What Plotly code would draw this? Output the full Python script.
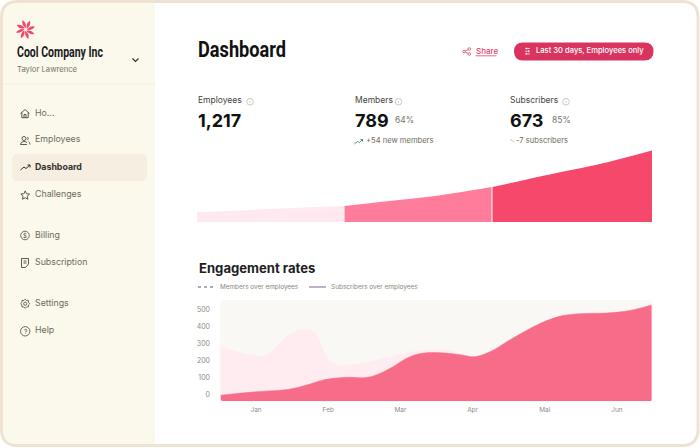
import re, math
import plotly.graph_objects as go

W, H = 700, 448

# ---- data ----
months = ["Jan", "Feb", "Mar", "Apr", "Mai", "Jun"]
month_pos = [0, 1, 2, 3, 4, 5]
rate_ticks = [0, 100, 200, 300, 400, 500]

members_pos = [-0.49, -0.24, 0.0, 0.16, 0.37, 0.55, 0.69, 0.81, 0.90, 0.99, 1.11, 1.25, 1.48, 1.71, 1.99, 2.22, 2.40,
               2.68, 2.87, 3.03, 3.24, 3.51, 3.79, 4.02, 4.25, 4.49, 4.86, 5.18, 5.48]
members_rate = [279, 246, 226, 236, 318, 371, 379, 363, 289, 211, 176, 172, 185, 205, 234, 254, 262,
                260, 232, 222, 248, 316, 383, 429, 460, 471, 475, 490, 522]

subs_pos = [-0.49, 0.0, 0.46, 0.69, 0.92, 1.11, 1.29, 1.52, 1.71, 1.89, 2.08, 2.22, 2.40, 2.68, 2.87, 3.03,
            3.24, 3.51, 3.79, 4.02, 4.25, 4.49, 4.86, 5.18, 5.48]
subs_rate = [-4, 16, 31, 54, 84, 96, 101, 99, 122, 161, 211, 234, 245, 240, 230, 221,
             250, 318, 385, 431, 462, 473, 477, 492, 524]
rate_floor = -38

funnel_emp_x = [197, 230, 268, 305, 343.5]
funnel_emp_h = [10, 11, 13, 14.5, 16]
funnel_mem_x = [344.5, 380, 418, 455, 491.5]
funnel_mem_h = [16, 20, 24, 29, 35]
funnel_sub_x = [492.5, 520, 552, 602, 652]
funnel_sub_h = [35, 41, 48, 58.5, 71.5]

metric_names = ["Employees", "Members", "Subscribers"]
metric_values = ["1,217", "789", "673"]
metric_shares = ["", "64%", "85%"]
metric_deltas = ["", "+54 new members", "-7 subscribers"]
nav_top = ["Ho...", "Employees", "Dashboard", "Challenges"]
nav_mid = ["Billing", "Subscription"]
nav_low = ["Settings", "Help"]

# ---- helpers (page furniture in pixel units) ----
INTER = "Inter, sans-serif"
NARROW = "Roboto, sans-serif"
shapes, notes = [], []


def px(x):
    return x / W


def py(y):
    return 1 - y / H


def conv(s):
    idx = [0]

    def rep(m):
        v = float(m.group(0))
        r = px(v) if idx[0] % 2 == 0 else py(v)
        idx[0] += 1
        return f"{r:.5f}"
    return re.sub(r"-?\d+\.?\d*", rep, s)


def path(s, fill=None, line=None, lw=1, layer="above"):
    shapes.append(dict(type="path", xref="paper", yref="paper", path=conv(s), layer=layer,
                       fillcolor=fill or "rgba(0,0,0,0)",
                       line=dict(color=line or "rgba(0,0,0,0)", width=lw if line else 0)))


def rrect(x0, y0, x1, y1, r, fill=None, line=None, lw=1, layer="below"):
    s = (f"M{x0 + r} {y0} L{x1 - r} {y0} Q{x1} {y0} {x1} {y0 + r} L{x1} {y1 - r} Q{x1} {y1} {x1 - r} {y1} "
         f"L{x0 + r} {y1} Q{x0} {y1} {x0} {y1 - r} L{x0} {y0 + r} Q{x0} {y0} {x0 + r} {y0} Z")
    path(s, fill, line, lw, layer)


def circ(cx, cy, r, fill=None, line=None, lw=1):
    shapes.append(dict(type="circle", xref="paper", yref="paper", x0=px(cx - r), x1=px(cx + r),
                       y0=py(cy + r), y1=py(cy - r), layer="above", fillcolor=fill or "rgba(0,0,0,0)",
                       line=dict(color=line or "rgba(0,0,0,0)", width=lw if line else 0)))


def text(x, y, s, size, color, weight=400, family=INTER, anchor="left"):
    notes.append(dict(x=px(x), y=py(y - 0.8), xref="paper", yref="paper", text=s, showarrow=False,
                      xanchor=anchor, yanchor="middle", borderpad=0, borderwidth=0,
                      font=dict(size=size, color=color, family=family, weight=weight)))


# frame & sidebar
rrect(1.5, 1.5, 698, 445.5, 16, fill="#FFFFFF")
path("M155 3 L17 3 Q3 3 3 17 L3 430 Q3 444 17 444 L155 444 Z", fill="#FBF8EC", layer="below")
rrect(1.5, 1.5, 698, 445.5, 16, line="#EEE3D3", lw=3)
path("M3 84 L155 84", line="#F5EFE3", lw=1)
rrect(12, 154, 147, 181, 6, fill="#F6EEE0")

# logo
LOGO = "#F0476D"
for i in range(8):
    a = i * math.pi / 4
    blade = [(1.3, 0.5), (4.4, -4.4), (9.4, -3.0), (7.0, 1.0)]
    p = [(25.5 + bx * math.cos(a) - by * math.sin(a), 29.5 + bx * math.sin(a) + by * math.cos(a)) for bx, by in blade]
    path(f"M{p[0][0]:.2f} {p[0][1]:.2f} Q{p[1][0]:.2f} {p[1][1]:.2f} {p[2][0]:.2f} {p[2][1]:.2f} "
         f"Q{p[3][0]:.2f} {p[3][1]:.2f} {p[0][0]:.2f} {p[0][1]:.2f} Z", fill=LOGO)

text(17, 53.5, "Cool Company Inc", 14.5, "#1A1A1A", 700, NARROW)
text(17, 70, "Taylor Lawrence", 7.7, "#77736A")
path("M132.5 58.5 L135.5 61.5 L138.5 58.5", line="#333333", lw=1.2)

# navigation
NAVC = "#6F6B60"
ICON = "#4A4842"
nav_y = [113, 139, 167, 194]
for name, y in zip(nav_top, nav_y):
    bold = name == "Dashboard"
    text(35, y, name, 8.8, "#33322E" if bold else NAVC, 700 if bold else 400)
for name, y in zip(nav_mid, [235, 262]):
    text(35, y, name, 8.8, NAVC)
for name, y in zip(nav_low, [303, 330]):
    text(35, y, name, 8.8, NAVC)

path("M20.5 113.5 L25 109.5 L29.5 113.5 M21.8 112.5 L21.8 117.7 L28.2 117.7 L28.2 112.5 M24 117.7 L24 114.5 L26 114.5 L26 117.7", line=ICON, lw=0.9)
circ(24, 138.5, 2, line=ICON, lw=0.9)
path("M20.5 144.5 Q20.5 141.5 24 141.5 Q26 141.5 27 142.5 M20.5 144.5 L27 144.5 M27.5 137 Q29 138.5 27.5 140 M28.5 141.5 Q30 142.5 30 144.5", line=ICON, lw=0.9)
path("M20.5 170 L24 167 L26 168.5 L30 165 M27.5 165 L30 165 L30 167.5", line="#33322E", lw=1)
star = []
for i in range(10):
    r = 4.6 if i % 2 == 0 else 2.2
    a = -math.pi / 2 + i * math.pi / 5
    star.append(f"{25.2 + r * math.cos(a):.2f} {195.5 + r * math.sin(a):.2f}")
path("M" + " L".join(star) + " Z", line=ICON, lw=0.9)
circ(25, 235.5, 4.3, line=ICON, lw=0.8)
text(25, 236.5, "$", 6, ICON, 400, INTER, "center")
path("M21.5 258.5 L28.5 258.5 L28.5 264 L25.5 267.5 L21.5 267.5 Z M23.5 261 L26.5 261 M23.5 263 L26.5 263", line=ICON, lw=0.9)
gear = []
for i in range(16):
    r = 4.6 if i % 2 == 0 else 3.5
    a = i * math.pi / 8
    gear.append(f"{25.2 + r * math.cos(a):.2f} {303.7 + r * math.sin(a):.2f}")
path("M" + " L".join(gear) + " Z", line=ICON, lw=0.8)
circ(25.2, 303.7, 1.6, line=ICON, lw=0.8)
circ(25.2, 331.3, 4.7, line=ICON, lw=0.8)
text(25.2, 332.3, "?", 6.5, ICON, 400, INTER, "center")

# header
text(198, 50.5, "Dashboard", 22, "#111111", 700, NARROW)
PINK = "#E0446B"
text(475.5, 51.5, "Share", 8, PINK, 500)
path("M475.5 55.8 L496.5 55.8", line=PINK, lw=0.8)
circ(464, 51.5, 1.3, line=PINK, lw=0.8)
circ(469.3, 49, 1.3, line=PINK, lw=0.8)
circ(469.3, 54, 1.3, line=PINK, lw=0.8)
path("M465.2 51 L468.1 49.5 M465.2 52 L468.1 53.5", line=PINK, lw=0.8)
rrect(514, 42.5, 653.5, 60.5, 9, fill="#D9345F")
path("M525 48.5 L530 48.5 M525 51.2 L530 51.2 M525 53.9 L530 53.9 M526.5 47.5 L526.5 49.5 M528.5 50.2 L528.5 52.2 M526.5 52.9 L526.5 54.9", line="#FFFFFF", lw=0.7)
text(536, 51.5, "Last 30 days, Employees only", 7.6, "#FFFFFF", 500)

# metrics
mx = [198, 354.5, 510]
info = [250, 398.5, 566]
share_x = [0, 395, 551.5]
for i in range(3):
    text(mx[i], 101, metric_names[i], 8.5, "#45433D")
    circ(info[i], 101.7, 3.3, line="#B5B2A8", lw=0.7)
    path(f"M{info[i]} 101 L{info[i]} 103.2", line="#B5B2A8", lw=0.6)
    text(mx[i], 121, metric_values[i], 18, "#111111", 700)
    if metric_shares[i]:
        text(share_x[i], 121, metric_shares[i], 8.5, "#77736A")
        text(mx[i] + (11.5 if i == 1 else 6), 141.5, metric_deltas[i], 7.6, "#6F6B60")
path("M354.5 144 L357.5 141.5 L359.5 142.5 L362.5 139.5 M360.5 139.5 L362.5 139.5 L362.5 141.5", line="#3C8A62", lw=0.9)
path("M510 139.8 Q512 139.8 514 142", line="#F2B39A", lw=0.9)

# engagement title / legend
text(198.5, 269, "Engagement rates", 13.1, "#1E1E1E", 700)
shapes.append(dict(type="line", xref="paper", yref="paper", x0=px(198), x1=px(216), y0=py(287), y1=py(287),
                   layer="above", line=dict(color="#5A4F80", width=1, dash="3px,3px")))
text(220, 287.5, "Members over employees", 6.4, "#8A877E")
path("M309 287 L326 287", line="#8F7CB8", lw=1.2)
text(330.5, 287.5, "Subscribers over employees", 6.45, "#8A877E")

# plot background
rrect(220, 300, 653, 402, 5, fill="#F9F8F4")
# soften the bottom corners of the areas
path("M220.3 397 L220.3 401.8 L225 401.8 Q220.3 401.5 220.3 397 Z", fill="#F9F8F4")
path("M652.8 397 L652.8 401.8 L648 401.8 Q652.8 401.5 652.8 397 Z", fill="#F9F8F4")

# ---- figure ----
LIGHT = "#FEECF0"
DARK = "#F76C89"
fig = go.Figure()


def floor_for(xs):
    return [rate_floor for _ in xs]


def area(xs, ys, name, color):
    fig.add_trace(go.Scatter(x=xs, y=floor_for(xs), mode="lines", line=dict(width=0), hoverinfo="skip",
                             showlegend=False, xaxis="x", yaxis="y"))
    fig.add_trace(go.Scatter(x=xs, y=ys, mode="lines", name=name, fill="tonexty", fillcolor=color,
                             line=dict(color=color, width=0.5, shape="spline", smoothing=1.0),
                             showlegend=False, xaxis="x", yaxis="y"))


area(members_pos, members_rate, "Members over employees", LIGHT)
area(subs_pos, subs_rate, "Subscribers over employees", DARK)

for xs, ys, c, n in [(funnel_emp_x, funnel_emp_h, "#FEE9F0", "Employees"),
                     (funnel_mem_x, funnel_mem_h, "#FF7D9B", "Members"),
                     (funnel_sub_x, funnel_sub_h, "#F5486B", "Subscribers")]:
    fig.add_trace(go.Scatter(x=xs, y=ys, mode="lines", name=n, fill="tozeroy", fillcolor=c,
                             line=dict(color=c, width=0, shape="spline"), showlegend=False,
                             xaxis="x2", yaxis="y2"))

fig.update_layout(
    width=W, height=H, margin=dict(l=0, r=0, t=0, b=0), autosize=False,
    paper_bgcolor="rgba(0,0,0,0)", plot_bgcolor="rgba(0,0,0,0)",
    shapes=shapes, annotations=notes, showlegend=False,
    xaxis=dict(domain=[px(220), px(653)], range=[-0.5, 5.5], tickvals=month_pos, ticktext=months,
               showgrid=False, zeroline=False, showline=False, ticks="", ticklabelstandoff=2,
               tickfont=dict(size=6.5, color="#8F8C84", family=INTER)),
    yaxis=dict(domain=[py(402), py(300)], range=[-44, 553], tickvals=rate_ticks,
               showgrid=False, zeroline=False, showline=False, ticks="", ticklabelstandoff=9,
               tickfont=dict(size=7, color="#8F8C84", family=INTER)),
    xaxis2=dict(domain=[px(197), px(652)], range=[197, 652], visible=False, anchor="y2"),
    yaxis2=dict(domain=[py(222), py(150)], range=[0, 72], visible=False, anchor="x2"),
)

# The reference headings use a condensed bold face; squeeze the installed one to the same widths.
post = """
document.body.style.margin='0';
var squeeze=[['Dashboard',88,20],['Cool Company Inc',86,14]];
document.querySelectorAll('.annotation-text').forEach(function(t){
  var fs=parseFloat(t.style.fontSize)||0;
  squeeze.forEach(function(q){
    if(t.textContent===q[0] && fs>=q[2]){
      var left=t.getBBox().x;
      t.setAttribute('text-anchor','start');
      t.style.textAnchor='start';
      t.setAttribute('x',left);
      t.setAttribute('textLength',q[1]);
      t.setAttribute('lengthAdjust','spacingAndGlyphs');
    }
  });
});
"""
fig.write_html("out.html", config=dict(displayModeBar=False), post_script=post)
